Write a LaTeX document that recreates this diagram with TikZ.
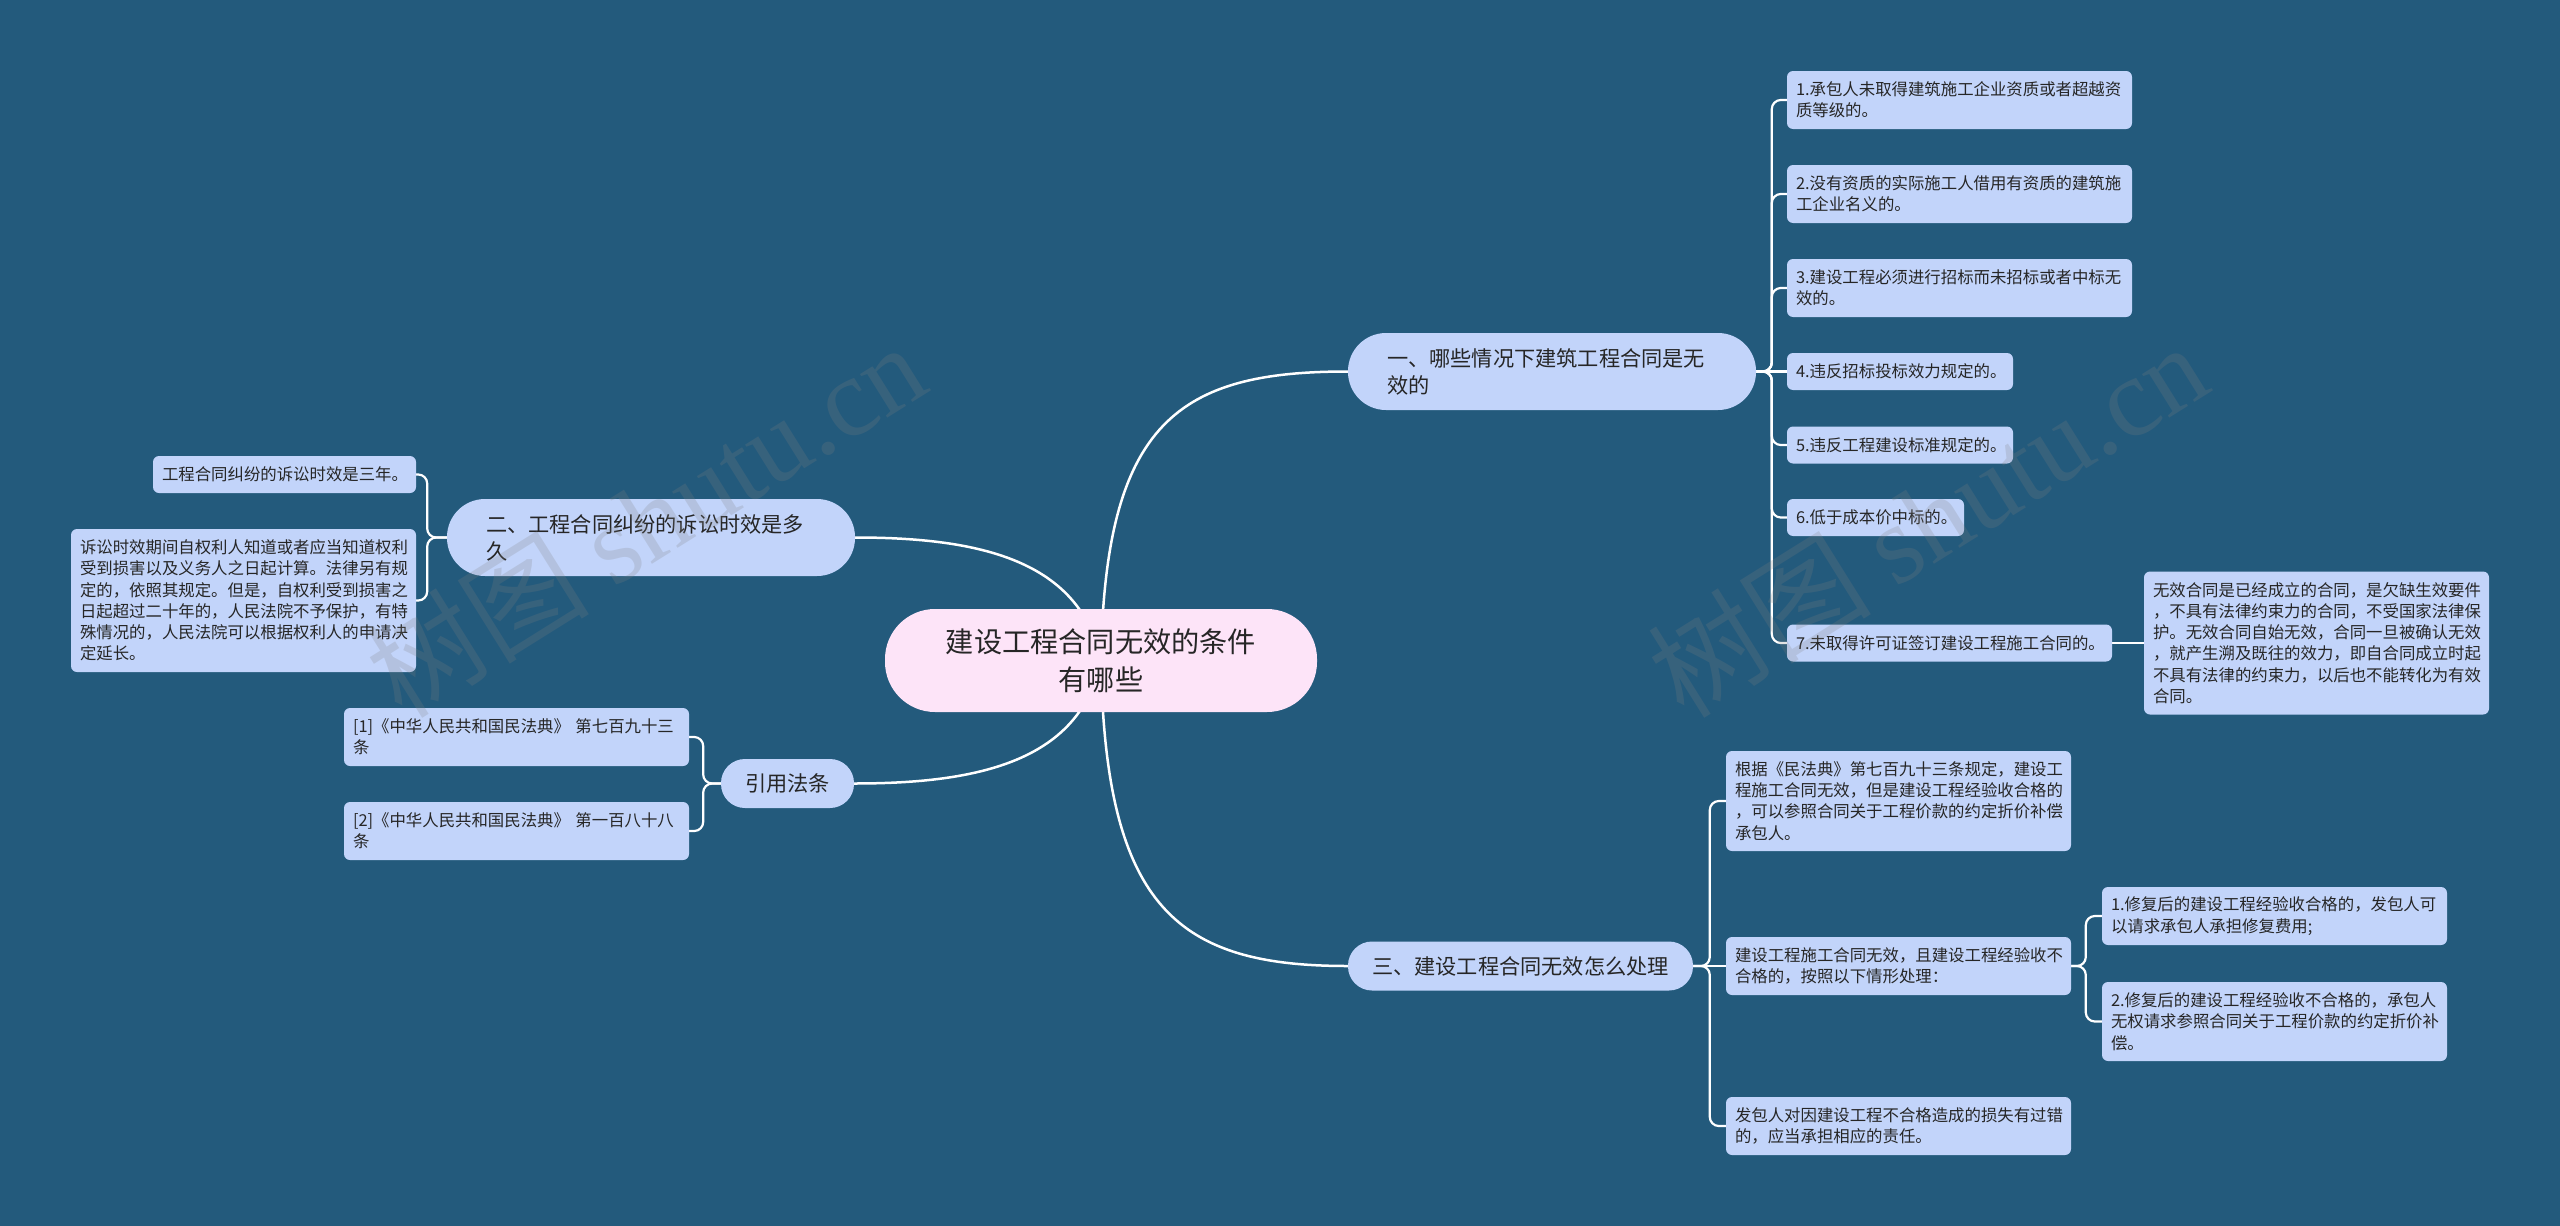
\documentclass[tikz,border=0pt]{standalone}
\usepackage{fontspec}
\setmainfont{Noto Sans CJK SC}
\newfontfamily\wmserif{Liberation Serif}
\usetikzlibrary{calc}
\definecolor{bg}{HTML}{235A7C}
\definecolor{leafc}{HTML}{C2D4FA}
\definecolor{ctr}{HTML}{FDE4F8}
\definecolor{txt}{HTML}{262626}
\pgfdeclarelayer{back}
\pgfdeclarelayer{links}
\pgfsetlayers{back,links,main}
\begin{document}
\begin{tikzpicture}[x=1pt,y=-1pt,
  leaf/.style={fill=leafc, rounded corners=6pt, inner xsep=9pt, inner ysep=4pt, align=left, text=txt,
    font=\fontsize{16.4}{21.3}\selectfont},
  brl/.style={fill=leafc, rounded corners=38pt, inner xsep=39pt, align=left, text=txt,
    font=\fontsize{21.2}{27}\selectfont, minimum height=77pt},
  brs/.style={fill=leafc, rounded corners=24pt, align=center, text=txt,
    font=\fontsize{21.2}{27}\selectfont, minimum height=49pt},
  ctrbox/.style={fill=ctr, rounded corners=50pt, align=center, text=txt,
    font=\fontsize{28.2}{38}\selectfont, minimum width=432pt, minimum height=103pt},
  lc/.style={draw=white, line width=2.2pt, rounded corners=9pt},
  mc/.style={draw=white, line width=2.5pt},
  wm/.style={rotate=32, text=gray, opacity=0.22, font=\fontsize{112}{112}\selectfont}]
\begin{pgfonlayer}{back}
\fill[bg] (0,0) rectangle (2560,1226);
\end{pgfonlayer}
\useasboundingbox (0,0) rectangle (2560,1226);

% centre
\node[ctrbox] (C) at (1101,660.5) {建设工程合同无效的条件\\有哪些};

% main branches
\node[brl, text width=330pt] (B1) at (1552,371.5) {一、哪些情况下建筑工程合同是无\\效的};
\node[brl, text width=330pt] (B2) at (651,537.5) {二、工程合同纠纷的诉讼时效是多\\久};
\node[brs, minimum width=133pt] (B3) at (787.5,783.5) {引用法条};
\node[brs, minimum width=345pt] (B4) at (1520.5,966) {三、建设工程合同无效怎么处理};

% branch 1 leaves
\node[leaf, text width=327pt, minimum height=58pt] (L1) at (1959.5,100) {1.承包人未取得建筑施工企业资质或者超越资\\质等级的。};
\node[leaf, text width=327pt, minimum height=58pt] (L2) at (1959.5,194) {2.没有资质的实际施工人借用有资质的建筑施\\工企业名义的。};
\node[leaf, text width=327pt, minimum height=58pt] (L3) at (1959.5,288) {3.建设工程必须进行招标而未招标或者中标无\\效的。};
\node[leaf, text width=208pt, minimum height=37pt] (L4) at (1900,371.5) {4.违反招标投标效力规定的。};
\node[leaf, text width=208pt, minimum height=37pt] (L5) at (1900,445) {5.违反工程建设标准规定的。};
\node[leaf, text width=159pt, minimum height=37pt] (L6) at (1875.5,517.5) {6.低于成本价中标的。};
\node[leaf, text width=307pt, minimum height=37pt] (L7) at (1949.5,643) {7.未取得许可证签订建设工程施工合同的。};
\node[leaf, text width=327pt, minimum height=143pt] (L7a) at (2316.5,643) {无效合同是已经成立的合同，是欠缺生效要件\\，不具有法律约束力的合同，不受国家法律保\\护。无效合同自始无效，合同一旦被确认无效\\，就产生溯及既往的效力，即自合同成立时起\\不具有法律的约束力，以后也不能转化为有效\\合同。};

% branch 2 leaves
\node[leaf, text width=245pt, minimum height=37pt] (M1) at (284.5,474.5) {工程合同纠纷的诉讼时效是三年。};
\node[leaf, text width=327pt, minimum height=143pt] (M2) at (243.5,600.5) {诉讼时效期间自权利人知道或者应当知道权利\\受到损害以及义务人之日起计算。法律另有规\\定的，依照其规定。但是，自权利受到损害之\\日起超过二十年的，人民法院不予保护，有特\\殊情况的，人民法院可以根据权利人的申请决\\定延长。};

% citations
\node[leaf, text width=327pt, minimum height=58pt] (R1) at (516.5,737) {[1]《中华人民共和国民法典》 第七百九十三\\条};
\node[leaf, text width=327pt, minimum height=58pt] (R2) at (516.5,831) {[2]《中华人民共和国民法典》 第一百八十八\\条};

% branch 3 leaves
\node[leaf, text width=327pt, minimum height=100pt] (T1) at (1898.5,801) {根据《民法典》第七百九十三条规定，建设工\\程施工合同无效，但是建设工程经验收合格的\\，可以参照合同关于工程价款的约定折价补偿\\承包人。};
\node[leaf, text width=327pt, minimum height=58pt] (T2) at (1898.5,966) {建设工程施工合同无效，且建设工程经验收不\\合格的，按照以下情形处理：};
\node[leaf, text width=327pt, minimum height=58pt] (T3) at (1898.5,1126) {发包人对因建设工程不合格造成的损失有过错\\的，应当承担相应的责任。};
\node[leaf, text width=327pt, minimum height=58pt] (T2a) at (2274.5,916) {1.修复后的建设工程经验收合格的，发包人可\\以请求承包人承担修复费用;};
\node[leaf, text width=327pt, minimum height=79pt] (T2b) at (2274.5,1021.5) {2.修复后的建设工程经验收不合格的，承包人\\无权请求参照合同关于工程价款的约定折价补\\偿。};

\begin{pgfonlayer}{links}
% main curves
\draw[mc] (C.center) .. controls +(4,-240) and +(-168,0) .. (B1.west);
\draw[mc] (C.center) .. controls +(-21,-100) and +(125,0) .. (B2.east);
\draw[mc] (C.center) .. controls +(-21,100) and +(126,0) .. (B3.east);
\draw[mc] (C.center) .. controls +(4,250) and +(-168,0) .. (B4.west);
% branch 1
\foreach \n in {L1,L2,L3,L5,L6,L7}
  \draw[lc] (B1.east) -| ([xshift=-15pt]\n.west) -- (\n.west);
\draw[lc] (B1.east) -- (L4.west);
\draw[lc] (L7.east) -- (L7a.west);
% branch 2
\foreach \n in {M1,M2}
  \draw[lc] (B2.west) -| ([xshift=11pt]\n.east) -- (\n.east);
% citations
\foreach \n in {R1,R2}
  \draw[lc] (B3.west) -| ([xshift=14pt]\n.east) -- (\n.east);
% branch 3
\foreach \n in {T1,T3}
  \draw[lc] (B4.east) -| ([xshift=-16pt]\n.west) -- (\n.west);
\draw[lc] (B4.east) -- (T2.west);
\foreach \n in {T2a,T2b}
  \draw[lc] (T2.east) -| ([xshift=-16pt]\n.west) -- (\n.west);
\end{pgfonlayer}

% watermarks
\node[wm] (W1) at (645,519) {树图 {\wmserif shutu.cn}};
\node[wm] (W2) at (1927,519) {树图 {\wmserif shutu.cn}};
\end{tikzpicture}
\end{document}
